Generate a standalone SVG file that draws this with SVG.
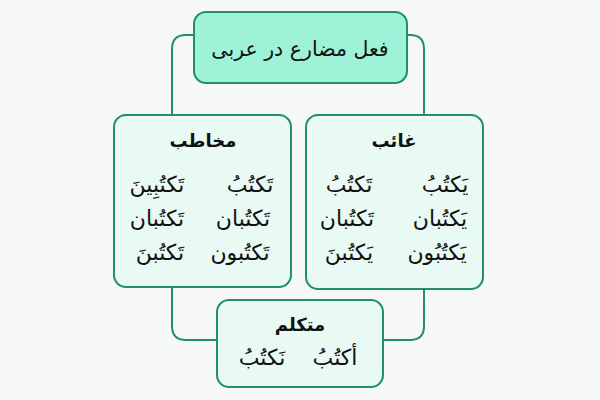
<svg xmlns="http://www.w3.org/2000/svg" width="600" height="400" viewBox="0 0 600 400">
<style>
.bg{fill:#f6f7f9}
.conn{fill:none;stroke:#1f9163;stroke-width:2}
.root{fill:#9ef2d7;stroke:#1f9163;stroke-width:2}
.sub{fill:#e8faf3;stroke:#1f9163;stroke-width:2}
text{font-family:"DejaVu Sans","Noto Sans",sans-serif;fill:#111;text-anchor:middle;direction:rtl}
.t{font-size:20.5px}
.h{font-size:18px;font-weight:bold}
.w{font-size:22px}
</style>
<rect class="bg" x="0" y="0" width="600" height="400"/>
<g id="connectors">
<path class="conn" d="M194,35 H186 Q172,35 172,49 V326 Q172,340 186,340 H217"/>
<path class="conn" d="M407,35 H410 Q424,35 424,49 V326 Q424,340 410,340 H383"/>
</g>
<g id="root">
<rect class="root" x="194" y="12" width="213" height="71" rx="12"/>
<text class="t" x="300" y="56">فعل مضارع در عربی</text>
</g>
<g id="mokhateb">
<rect class="sub" x="114" y="115" width="177" height="172" rx="12"/>
<text class="h" x="203" y="147">مخاطب</text>
<text class="w" x="250" y="192">تَكتُبُ</text>
<text class="w" x="157" y="192">تَكتُبِينَ</text>
<text class="w" x="243" y="226">تَكتُبان</text>
<text class="w" x="157" y="226">تَكتُبان</text>
<text class="w" x="240" y="260">تَكتُبون</text>
<text class="w" x="160" y="260">تَكتُبنَ</text>
</g>
<g id="ghaeb">
<rect class="sub" x="306" y="115" width="177" height="174" rx="12"/>
<text class="h" x="394" y="147">غائب</text>
<text class="w" x="445" y="192">يَكتُبُ</text>
<text class="w" x="349" y="192">تَكتُبُ</text>
<text class="w" x="440" y="226">يَكتُبان</text>
<text class="w" x="347" y="226">تَكتُبان</text>
<text class="w" x="437" y="260">يَكتُبُون</text>
<text class="w" x="349" y="260">يَكتُبنَ</text>
</g>
<g id="motakallem">
<rect class="sub" x="217" y="300" width="166" height="87" rx="12"/>
<text class="h" x="300" y="331">متكلم</text>
<text class="w" x="335" y="365">أكتُبُ</text>
<text class="w" x="262" y="365">نَكتُبُ</text>
</g>
</svg>
